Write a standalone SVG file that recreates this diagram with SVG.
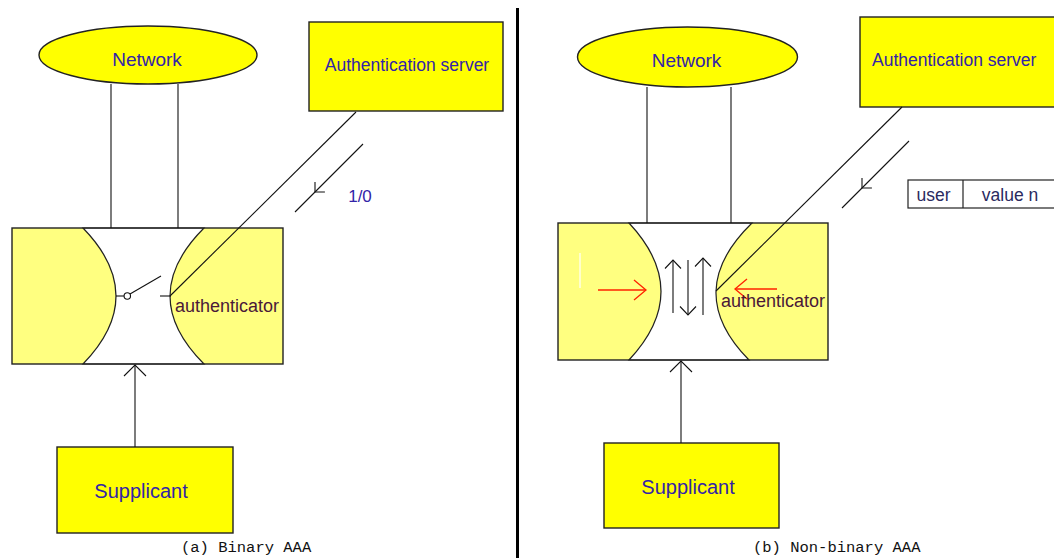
<svg xmlns="http://www.w3.org/2000/svg" width="1054" height="558" viewBox="0 0 1054 558">
  <style>
    .node { fill: #ffff00; stroke: #222; stroke-width: 1.4; }
    .auth { fill: #ffff80; }
    .gap { fill: #ffffff; stroke: #222; stroke-width: 1.2; }
    .frame { fill: none; stroke: #222; stroke-width: 1.4; }
    .wire { fill: none; stroke: #111; stroke-width: 1.1; }
    .red { fill: none; stroke: #ff2200; stroke-width: 1.3; }
    .lbl { font-family: "Liberation Sans", Arial, sans-serif; fill: #3324a8; }
    .albl { font-family: "Liberation Sans", Arial, sans-serif; fill: #4a1838; font-size: 18px; }
    .rec { font-family: "Liberation Sans", Arial, sans-serif; fill: #2a2a60; font-size: 17.5px; }
    .cap { font-family: "Liberation Mono", "Courier New", monospace; fill: #111; font-size: 15.5px; }
  </style>
  <defs>
    <marker id="arrow-lg" viewBox="-13 -13 15 26" markerWidth="15" markerHeight="26" refX="0" refY="0" orient="auto" markerUnits="userSpaceOnUse">
      <path d="M-11,-11 L0,0 L-11,11" fill="none" stroke="#111" stroke-width="1.1"/>
    </marker>
    <marker id="arrow-sm" viewBox="-10 -10 12 20" markerWidth="12" markerHeight="20" refX="0" refY="0" orient="auto" markerUnits="userSpaceOnUse">
      <path d="M-8.5,-8 L0,0 L-8.5,8" fill="none" stroke="#111" stroke-width="1.1"/>
    </marker>
    <marker id="arrow-tick" viewBox="-9 -9 11 18" markerWidth="11" markerHeight="18" refX="0" refY="0" orient="auto" markerUnits="userSpaceOnUse">
      <path d="M-7,-7 L0,0 L-7,7" fill="none" stroke="#111" stroke-width="1.1"/>
    </marker>
    <marker id="arrow-red" viewBox="-14 -12 16 24" markerWidth="16" markerHeight="24" refX="0" refY="0" orient="auto" markerUnits="userSpaceOnUse">
      <path d="M-12,-10 L0,0 L-12,10" fill="none" stroke="#ff2200" stroke-width="1.3"/>
    </marker>
  </defs>

  <rect width="1054" height="558" fill="#ffffff"/>

  <!-- panel divider -->
  <line x1="517.5" y1="8" x2="517.5" y2="558" stroke="#000" stroke-width="3"/>

  <!-- panel a: nodes -->
  <g id="network-a">
    <ellipse class="node" cx="148" cy="55" rx="109" ry="29"/>
    <text class="lbl" x="147" y="66" font-size="19" text-anchor="middle">Network</text>
  </g>
  <g id="server-a">
    <rect class="node" x="309" y="22" width="194" height="89"/>
    <text class="lbl" x="407" y="71" font-size="17.5" text-anchor="middle">Authentication server</text>
  </g>
  <g id="signal-a">
    <text class="lbl" x="360" y="202" font-size="17" text-anchor="middle">1/0</text>
  </g>
  <g id="authenticator-a">
    <rect class="auth" x="12" y="228" width="271" height="136"/>
    <path class="gap" d="M83,228 Q149,296 83,364 L204,364 Q136,296 204,228 Z"/>
    <rect class="frame" x="12" y="228" width="271" height="136"/>
    <!-- open switch -->
    <line class="wire" x1="116" y1="296" x2="124" y2="296"/>
    <circle cx="127.3" cy="296" r="3.2" fill="#fff" stroke="#111" stroke-width="1.1"/>
    <line class="wire" x1="130" y1="294" x2="161" y2="276"/>
    <line class="wire" x1="160" y1="296" x2="171" y2="296"/>
    <text class="albl" x="175" y="312">authenticator</text>
  </g>
  <g id="supplicant-a">
    <rect class="node" x="57" y="447" width="176" height="86"/>
    <text class="lbl" x="141" y="498" font-size="20" text-anchor="middle">Supplicant</text>
  </g>
  <text class="cap" x="181" y="552">(a) Binary AAA</text>

  <!-- panel b: nodes -->
  <g id="network-b">
    <ellipse class="node" cx="687.5" cy="57" rx="110" ry="30"/>
    <text class="lbl" x="686.5" y="67" font-size="19" text-anchor="middle">Network</text>
  </g>
  <g id="server-b">
    <rect class="node" x="860" y="17" width="200" height="90"/>
    <text class="lbl" x="872" y="66" font-size="17.5">Authentication server</text>
  </g>
  <g id="record-b">
    <rect x="908" y="180" width="152" height="28" fill="#fff" stroke="#222" stroke-width="1.2"/>
    <line x1="963" y1="180" x2="963" y2="208" stroke="#222" stroke-width="1.2"/>
    <text class="rec" x="933.5" y="201" text-anchor="middle">user</text>
    <text class="rec" x="1010" y="201" text-anchor="middle">value n</text>
  </g>
  <g id="authenticator-b">
    <rect class="auth" x="558" y="223" width="270" height="137"/>
    <path class="gap" d="M629,223 Q693,291.5 629,360 L749,360 Q681.5,291.5 752,223 Z"/>
    <rect class="frame" x="558" y="223" width="270" height="137"/>
    <!-- exchanges through the authenticator -->
    <line x1="580" y1="253" x2="580" y2="288" stroke="#fff" stroke-width="1.2"/>
    <line class="red" x1="598" y1="290" x2="646" y2="290" marker-end="url(#arrow-red)"/>
    <line class="red" x1="777" y1="289" x2="735" y2="289" marker-end="url(#arrow-red)"/>
    <line class="wire" x1="673" y1="313" x2="673" y2="260" marker-end="url(#arrow-sm)"/>
    <line class="wire" x1="688" y1="260" x2="688" y2="315" marker-end="url(#arrow-sm)"/>
    <line class="wire" x1="703" y1="315" x2="703" y2="258" marker-end="url(#arrow-sm)"/>
    <text class="albl" x="721" y="307">authenticator</text>
  </g>
  <g id="supplicant-b">
    <rect class="node" x="604" y="443" width="175" height="85"/>
    <text class="lbl" x="688" y="494" font-size="20" text-anchor="middle">Supplicant</text>
  </g>
  <text class="cap" x="753" y="552">(b) Non-binary AAA</text>

  <!-- connectors, drawn over the nodes -->
  <g id="connectors">
    <!-- panel a -->
    <line class="wire" x1="111" y1="84" x2="111" y2="228"/>
    <line class="wire" x1="178" y1="84" x2="178" y2="228"/>
    <line class="wire" x1="356" y1="112" x2="170" y2="296"/>
    <polyline class="wire" points="363,144 315,192 295,212" marker-mid="url(#arrow-tick)"/>
    <line class="wire" x1="135" y1="447" x2="135" y2="365" marker-end="url(#arrow-lg)"/>
    <!-- panel b -->
    <line class="wire" x1="647" y1="87" x2="647" y2="223"/>
    <line class="wire" x1="731" y1="87" x2="731" y2="223"/>
    <line class="wire" x1="902" y1="107" x2="716" y2="291"/>
    <polyline class="wire" points="909,141 862,188 842,208" marker-mid="url(#arrow-tick)"/>
    <line class="wire" x1="681" y1="443" x2="681" y2="361" marker-end="url(#arrow-lg)"/>
  </g>
</svg>
